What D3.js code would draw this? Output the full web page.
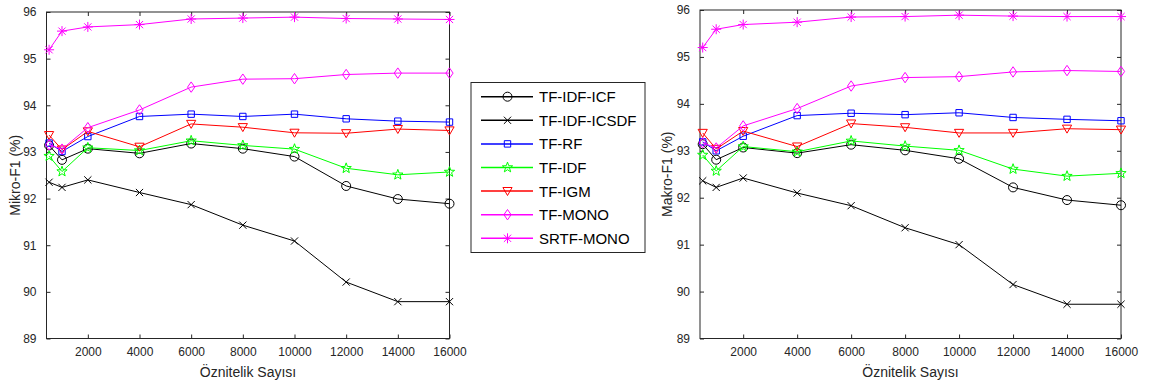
<!DOCTYPE html>
<html>
<head>
<meta charset="utf-8">
<script src="https://cdn.jsdelivr.net/npm/d3@7"></script>
<style>
  body { margin: 0; background: #fff; }
  svg { display: block; font-family: "Liberation Sans", Arial, sans-serif; }
</style>
</head>
<body>
<div class="container"></div>
<script>
const featureCounts = [500, 1000, 2000, 4000, 6000, 8000, 10000, 12000, 14000, 16000];
const xTicks = [2000, 4000, 6000, 8000, 10000, 12000, 14000, 16000];
const yTicks = [89, 90, 91, 92, 93, 94, 95, 96];

const seriesNames = ['TF-IDF-ICF', 'TF-IDF-ICSDF', 'TF-RF', 'TF-IDF', 'TF-IGM', 'TF-MONO', 'SRTF-MONO'];
const seriesColors = ['#000000', '#000000', '#0000ff', '#00ff00', '#ff0000', '#ff00ff', '#ff00ff'];
const seriesMarkers = ['circle', 'x', 'square', 'star', 'triangleDown', 'diamond', 'asterisk'];

// Mikro-F1
const microIcf    = [93.14, 92.83, 93.07, 92.97, 93.18, 93.07, 92.90, 92.27, 91.99, 91.89];
const microIcsdf  = [92.35, 92.24, 92.40, 92.13, 91.87, 91.43, 91.09, 90.21, 89.79, 89.79];
const microRf     = [93.19, 93.01, 93.33, 93.76, 93.81, 93.76, 93.81, 93.71, 93.66, 93.64];
const microIdf    = [92.91, 92.58, 93.09, 93.03, 93.24, 93.14, 93.06, 92.65, 92.51, 92.57];
const microIgm    = [93.36, 93.05, 93.44, 93.11, 93.60, 93.53, 93.41, 93.40, 93.49, 93.46];
const microMono   = [93.15, 93.06, 93.52, 93.90, 94.39, 94.56, 94.57, 94.66, 94.69, 94.69];
const microSrtf   = [95.19, 95.59, 95.68, 95.73, 95.85, 95.87, 95.89, 95.86, 95.85, 95.84];

// Makro-F1
const macroIcf    = [93.14, 92.81, 93.07, 92.95, 93.13, 93.01, 92.83, 92.22, 91.95, 91.84];
const macroIcsdf  = [92.36, 92.22, 92.42, 92.10, 91.83, 91.36, 91.00, 90.15, 89.73, 89.73];
const macroRf     = [93.19, 93.00, 93.31, 93.75, 93.80, 93.77, 93.81, 93.71, 93.67, 93.64];
const macroIdf    = [92.91, 92.57, 93.09, 92.98, 93.21, 93.10, 93.01, 92.61, 92.46, 92.52];
const macroIgm    = [93.38, 93.04, 93.42, 93.09, 93.58, 93.50, 93.38, 93.38, 93.47, 93.45];
const macroMono   = [93.17, 93.06, 93.53, 93.90, 94.38, 94.56, 94.58, 94.68, 94.71, 94.69];
const macroSrtf   = [95.20, 95.59, 95.69, 95.74, 95.85, 95.86, 95.89, 95.87, 95.86, 95.86];

const microSeries = [microIcf, microIcsdf, microRf, microIdf, microIgm, microMono, microSrtf];
const macroSeries = [macroIcf, macroIcsdf, macroRf, macroIdf, macroIgm, macroMono, macroSrtf];

const axisColor = '#262626';

function markerPath(type) {
    const r = 4.5;
    switch (type) {
        case 'circle':
            return d3.symbol(d3.symbolCircle, Math.PI * r * r)();
        case 'square':
            return 'M-3.2,-3.2H3.2V3.2H-3.2Z';
        case 'diamond':
            return 'M0,-5.2L3.6,0L0,5.2L-3.6,0Z';
        case 'triangleDown':
            return 'M-4.6,-3.6H4.6L0,4.4Z';
        case 'x':
            return 'M-3.6,-3.6L3.6,3.6M-3.6,3.6L3.6,-3.6';
        case 'asterisk':
            return 'M0,-5V5M-5,0H5M-3.6,-3.6L3.6,3.6M-3.6,3.6L3.6,-3.6';
        case 'star': {
            const pts = [];
            for (let i = 0; i < 10; i++) {
                const a = -Math.PI / 2 + i * Math.PI / 5;
                const rr = i % 2 === 0 ? 5.4 : 2.2;
                pts.push([rr * Math.cos(a), rr * Math.sin(a)]);
            }
            return 'M' + pts.map(p => p.join(',')).join('L') + 'Z';
        }
    }
}

const svg = d3.select('.container')
    .append('svg')
    .attr('width', 1149)
    .attr('height', 383);

function drawPanel(opts) {
    const x = d3.scaleLinear().domain([400, 16000]).range([opts.left, opts.right]);
    const y = d3.scaleLinear().domain([89, 96]).range([opts.bottom, opts.top]);
    const g = svg.append('g');
    const fmt = d3.format('d');

    // axes with inward ticks
    const bottom = g.append('g')
        .attr('transform', `translate(0,${opts.bottom})`)
        .call(d3.axisBottom(x).tickValues(xTicks).tickFormat(fmt).tickSizeInner(-4).tickSizeOuter(0).tickPadding(9));
    const top = g.append('g')
        .attr('transform', `translate(0,${opts.top})`)
        .call(d3.axisTop(x).tickValues(xTicks).tickSizeInner(-4).tickSizeOuter(0).tickFormat(''));
    const left = g.append('g')
        .attr('transform', `translate(${opts.left},0)`)
        .call(d3.axisLeft(y).tickValues(yTicks).tickFormat(fmt).tickSizeInner(-4).tickSizeOuter(0).tickPadding(10));
    const right = g.append('g')
        .attr('transform', `translate(${opts.right},0)`)
        .call(d3.axisRight(y).tickValues(yTicks).tickSizeInner(-4).tickSizeOuter(0).tickFormat(''));

    [bottom, top, left, right].forEach(a => {
        a.select('.domain').remove();
        a.selectAll('line').attr('stroke', axisColor);
        a.selectAll('text')
            .attr('fill', axisColor)
            .style('font-size', '12px')
            .style('font-family', '"Liberation Sans", Arial, sans-serif');
    });

    g.append('rect')
        .attr('x', opts.left).attr('y', opts.top)
        .attr('width', opts.right - opts.left).attr('height', opts.bottom - opts.top)
        .attr('fill', 'none').attr('stroke', axisColor).attr('stroke-width', 1);

    const line = d3.line()
        .x((d, i) => x(featureCounts[i]))
        .y(d => y(d));

    opts.series.forEach((vals, k) => {
        g.append('path')
            .datum(vals)
            .attr('d', line)
            .attr('fill', 'none')
            .attr('stroke', seriesColors[k])
            .attr('stroke-width', 1);

        g.append('g')
            .selectAll('path')
            .data(vals)
            .join('path')
            .attr('transform', (d, i) => `translate(${x(featureCounts[i])},${y(d)})`)
            .attr('d', markerPath(seriesMarkers[k]))
            .attr('fill', 'none')
            .attr('stroke', seriesColors[k])
            .attr('stroke-width', 1);
    });

    g.append('text')
        .attr('x', (opts.left + opts.right) / 2)
        .attr('y', 377)
        .attr('text-anchor', 'middle')
        .attr('fill', axisColor)
        .style('font-size', '14px')
        .text('Öznitelik Sayısı');

    g.append('text')
        .attr('transform', `translate(${opts.yLabelX},${(opts.top + opts.bottom) / 2}) rotate(-90)`)
        .attr('text-anchor', 'middle')
        .attr('fill', axisColor)
        .style('font-size', '14px')
        .text(opts.yLabel);
}

drawPanel({left: 46.5, right: 449.5, top: 12, bottom: 338.5, series: microSeries, yLabel: 'Mikro-F1 (%)', yLabelX: 20});
drawPanel({left: 700, right: 1121, top: 10, bottom: 338.5, series: macroSeries, yLabel: 'Makro-F1 (%)', yLabelX: 672});

// legend
const legend = svg.append('g');
legend.append('rect')
    .attr('x', 471).attr('y', 82.5)
    .attr('width', 174).attr('height', 170)
    .attr('fill', '#fff').attr('stroke', axisColor).attr('stroke-width', 1);

seriesNames.forEach((name, k) => {
    const cy = 96.7 + k * 23.6;
    const row = legend.append('g');
    row.append('line')
        .attr('x1', 481).attr('x2', 533).attr('y1', cy).attr('y2', cy)
        .attr('stroke', seriesColors[k]).attr('stroke-width', 1.5);
    row.append('path')
        .attr('transform', `translate(507.5,${cy})`)
        .attr('d', markerPath(seriesMarkers[k]))
        .attr('fill', 'none')
        .attr('stroke', seriesColors[k]);
    row.append('text')
        .attr('x', 539).attr('y', cy)
        .attr('dy', '0.36em')
        .attr('fill', '#000')
        .style('font-size', '15px')
        .text(name);
});
</script>
</body>
</html>
